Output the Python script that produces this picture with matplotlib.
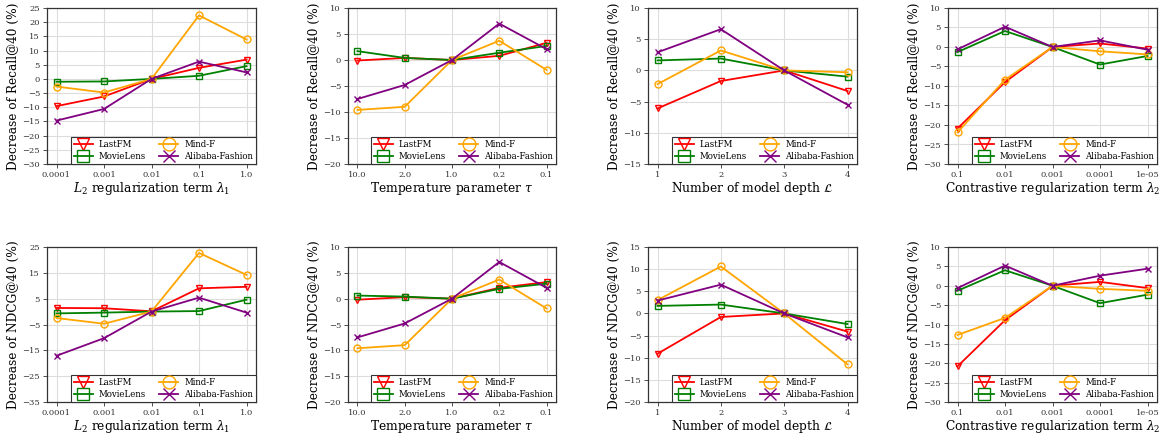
import numpy as np
import matplotlib
matplotlib.use("Agg")
import matplotlib.pyplot as plt

# x tick labels for each hyper-parameter
l2_ticks = ["0.0001", "0.001", "0.01", "0.1", "1.0"]
temp_ticks = ["10.0", "2.0", "1.0", "0.2", "0.1"]
depth_ticks = ["1", "2", "3", "4"]
cl_ticks = ["0.1", "0.01", "0.001", "0.0001", "1e-05"]

datasets = ["LastFM", "MovieLens", "Mind-F", "Alibaba-Fashion"]

# Recall@40 decrease (%)
recall_l2 = {
    "LastFM": [-9.6, -6.2, 0.0, 3.9, 6.8],
    "MovieLens": [-1.0, -0.9, 0.0, 1.1, 4.5],
    "Mind-F": [-2.7, -4.8, 0.0, 22.4, 13.9],
    "Alibaba-Fashion": [-14.7, -10.6, 0.0, 6.1, 2.3],
}
recall_temp = {
    "LastFM": [-0.1, 0.4, 0.0, 0.8, 3.3],
    "MovieLens": [1.7, 0.4, 0.0, 1.4, 2.7],
    "Mind-F": [-9.6, -9.0, 0.0, 3.7, -1.9],
    "Alibaba-Fashion": [-7.5, -4.8, 0.0, 7.0, 2.1],
}
recall_depth = {
    "LastFM": [-6.1, -1.7, 0.0, -3.3],
    "MovieLens": [1.6, 1.9, 0.0, -1.0],
    "Mind-F": [-2.2, 3.2, 0.0, -0.3],
    "Alibaba-Fashion": [2.9, 6.6, 0.0, -5.5],
}
recall_cl = {
    "LastFM": [-20.9, -9.0, 0.0, 0.9, -0.4],
    "MovieLens": [-1.3, 4.1, 0.0, -4.5, -2.3],
    "Mind-F": [-21.9, -8.4, 0.0, -1.1, -1.9],
    "Alibaba-Fashion": [-0.6, 5.2, 0.0, 1.7, -0.7],
}

# NDCG@40 decrease (%)
ndcg_l2 = {
    "LastFM": [1.4, 1.3, 0.1, 9.0, 9.6],
    "MovieLens": [-0.7, -0.4, 0.0, 0.2, 4.6],
    "Mind-F": [-2.5, -4.7, 0.0, 22.7, 14.2],
    "Alibaba-Fashion": [-17.1, -10.3, 0.0, 5.4, -0.4],
}
ndcg_temp = {
    "LastFM": [-0.2, 0.3, 0.0, 2.1, 3.2],
    "MovieLens": [0.6, 0.4, 0.0, 1.9, 2.9],
    "Mind-F": [-9.6, -9.0, 0.0, 3.7, -1.9],
    "Alibaba-Fashion": [-7.5, -4.8, 0.0, 7.1, 2.1],
}
ndcg_depth = {
    "LastFM": [-9.1, -0.8, 0.0, -4.1],
    "MovieLens": [1.7, 2.0, 0.0, -2.4],
    "Mind-F": [3.0, 10.6, 0.0, -11.5],
    "Alibaba-Fashion": [2.9, 6.5, 0.0, -5.4],
}
ndcg_cl = {
    "LastFM": [-20.8, -8.9, 0.0, 1.0, -0.6],
    "MovieLens": [-1.3, 4.0, 0.0, -4.5, -2.3],
    "Mind-F": [-12.7, -8.3, 0.0, -0.8, -1.3],
    "Alibaba-Fashion": [-0.6, 5.2, 0.0, 2.6, 4.4],
}

colors = {"LastFM": "red", "MovieLens": "green", "Mind-F": "orange", "Alibaba-Fashion": "purple"}
markers = {"LastFM": "v", "MovieLens": "s", "Mind-F": "o", "Alibaba-Fashion": "x"}

xlabels = [
    r"$L_2$ regularization term $\lambda_1$",
    r"Temperature parameter $\tau$",
    r"Number of model depth $\mathcal{L}$",
    r"Contrastive regularization term $\lambda_2$",
]
ticks_list = [l2_ticks, temp_ticks, depth_ticks, cl_ticks]

# rows: (data per column, y label, y ticks per column)
rows = [
    ([recall_l2, recall_temp, recall_depth, recall_cl], "Decrease of Recall@40 (%)",
     [np.arange(-30, 26, 5), np.arange(-20, 11, 5), np.arange(-15, 11, 5), np.arange(-30, 11, 5)]),
    ([ndcg_l2, ndcg_temp, ndcg_depth, ndcg_cl], "Decrease of NDCG@40 (%)",
     [np.arange(-35, 26, 10), np.arange(-20, 11, 5), np.arange(-20, 16, 5), np.arange(-30, 11, 5)]),
]

plt.rcParams["font.family"] = "DejaVu Serif"
plt.rcParams["mathtext.fontset"] = "dejavuserif"

fig = plt.figure(figsize=(11.66, 4.36), dpi=100)

# axes boxes in pixels
col_left = [47, 348, 648, 948]
col_width = [209, 208, 209, 209]
row_top = [8, 247]
row_height = [156, 155]
W, H = 1166, 436

for r, (datas, ylabel, yticks_list) in enumerate(rows):
    for c in range(4):
        ax = fig.add_axes([col_left[c] / W, 1 - (row_top[r] + row_height[r]) / H,
                           col_width[c] / W, row_height[r] / H])
        data = datas[c]
        x = np.arange(len(ticks_list[c]))
        for name in datasets:
            ax.plot(x, data[name], color=colors[name], marker=markers[name],
                    markerfacecolor="none", markersize=5, linewidth=1.3,
                    markeredgewidth=1.0, label=name)
        ax.set_xticks(x)
        ax.set_xticklabels(ticks_list[c])
        yt = yticks_list[c]
        ax.set_yticks(yt)
        ax.set_ylim(yt[0], yt[-1])
        ax.margins(x=0.05)
        ax.tick_params(labelsize=6, length=3, width=0.6, pad=2, colors="#333333")
        ax.grid(True, color="#dddddd", linewidth=0.8)
        ax.set_axisbelow(True)
        for s in ax.spines.values():
            s.set_color("#333333")
            s.set_linewidth(0.9)
        ax.set_xlabel(xlabels[c], fontsize=8.8, labelpad=0.5)
        ax.set_ylabel(ylabel, fontsize=8.7, labelpad=2)
        leg = ax.legend(loc="lower right", ncol=2, fontsize=6.2, markerscale=1.85,
                        borderaxespad=0.0, handlelength=2.2, columnspacing=1.5,
                        labelspacing=0.3, borderpad=0.35, handletextpad=0.7,
                        fancybox=False, framealpha=1.0)
        leg.get_frame().set_edgecolor("#333333")
        leg.get_frame().set_linewidth(0.8)

fig.savefig("out.png", dpi=100)
